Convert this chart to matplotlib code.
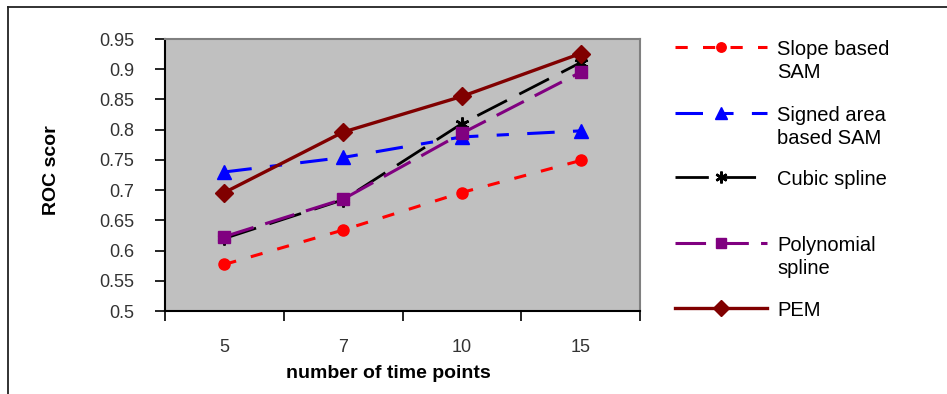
import matplotlib
matplotlib.use("Agg")
import matplotlib.pyplot as plt
from matplotlib.lines import Line2D

# data
time_points = ["5", "7", "10", "15"]
slope_sam = [0.577, 0.634, 0.696, 0.749]
signed_sam = [0.730, 0.754, 0.788, 0.798]
cubic_spline = [0.620, 0.684, 0.810, 0.911]
poly_spline = [0.623, 0.685, 0.794, 0.895]
pem = [0.696, 0.796, 0.855, 0.926]

series_labels = [
    "Slope based\nSAM",
    "Signed area\nbased SAM",
    "Cubic spline",
    "Polynomial\nspline",
    "PEM",
]
y_ticks = [0.5, 0.55, 0.6, 0.65, 0.7, 0.75, 0.8, 0.85, 0.9, 0.95]
y_tick_labels = ["0.5", "0.55", "0.6", "0.65", "0.7", "0.75", "0.8",
                 "0.85", "0.9", "0.95"]

W, H = 947, 394
plt.rcParams["font.family"] = ["Liberation Sans", "DejaVu Sans"]
fig = plt.figure(figsize=(W / 100, H / 100), dpi=100)
ax = fig.add_axes([165 / W, 1 - 311 / H, (640 - 165) / W, (311 - 39) / H])
ax.set_facecolor("#c0c0c0")

styles = [
    dict(color="#ff0000", dashes=(4, 5), marker="o", markersize=8, lw=2.2),
    dict(color="#0000ff", dashes=(9, 6, 4, 6), marker="^", markersize=10, lw=2.2),
    dict(color="#000000", dashes=(12, 5), marker=(6, 2, 0), markersize=10,
         markeredgewidth=1.8, lw=2.0),
    dict(color="#800080", dashes=(10, 4), marker="s", markersize=9, lw=2.2),
    dict(color="#800000", linestyle="-", marker="D", markersize=9, lw=2.4),
]
series = [slope_sam, signed_sam, cubic_spline, poly_spline, pem]
xs = [i + 0.5 for i in range(len(time_points))]

for vals, st in zip(series, styles):
    ax.plot(xs, vals, clip_on=False, **st)

ax.set_xlim(0, len(time_points))
ax.set_ylim(0.5, 0.95)
ax.set_yticks(y_ticks)
ax.set_yticklabels(y_tick_labels)
ax.set_xticks(range(len(time_points) + 1))
ax.set_xticklabels([])
ax.set_xticks(xs, minor=True)
ax.set_xticklabels(time_points, minor=True)
ax.tick_params(axis="x", which="major", length=7, width=1.2, direction="out")
ax.tick_params(axis="x", which="minor", length=0, pad=20, labelsize=13,
               labelcolor="#333333")
ax.tick_params(axis="y", length=7, width=1.2, direction="out", pad=15,
               labelsize=13, labelcolor="#333333")

for side in ("top", "right"):
    ax.spines[side].set_color("#808080")
    ax.spines[side].set_linewidth(1.5)
for side in ("left", "bottom"):
    ax.spines[side].set_color("#000000")
    ax.spines[side].set_linewidth(1.5)

fig.text(52 / W, 1 - 170 / H, "ROC scor", rotation=90, fontsize=14,
         fontweight="bold", ha="center", va="center")
fig.text(388 / W, 1 - 373 / H, "number of time points", fontsize=14,
         fontweight="bold", ha="center", va="center")

# legend drawn beside the plot
handle_y = [47, 113, 177, 243, 308]
for lab, st, hy in zip(series_labels, styles, handle_y):
    y = 1 - hy / H
    ln = Line2D([675 / W, 767 / W], [y, y], transform=fig.transFigure, **st)
    ln.set_markevery([])
    fig.add_artist(ln)
    mk = dict(st)
    mk["linestyle"] = "none"
    mk.pop("dashes", None)
    mk["markersize"] = st["markersize"] * 0.85
    fig.add_artist(Line2D([721 / W], [y], transform=fig.transFigure, **mk))
    fig.text(777 / W, y + 7 / H, lab, fontsize=14.5, ha="left", va="top",
             linespacing=1.3)

# outer frame (top and left edges)
fig.add_artist(Line2D([8 / W, 1], [1 - 7 / H, 1 - 7 / H],
                      transform=fig.transFigure, color="#222222", lw=1.3))
fig.add_artist(Line2D([8 / W, 8 / W], [0, 1 - 7 / H],
                      transform=fig.transFigure, color="#222222", lw=1.3))

fig.savefig("out.png", dpi=100)
